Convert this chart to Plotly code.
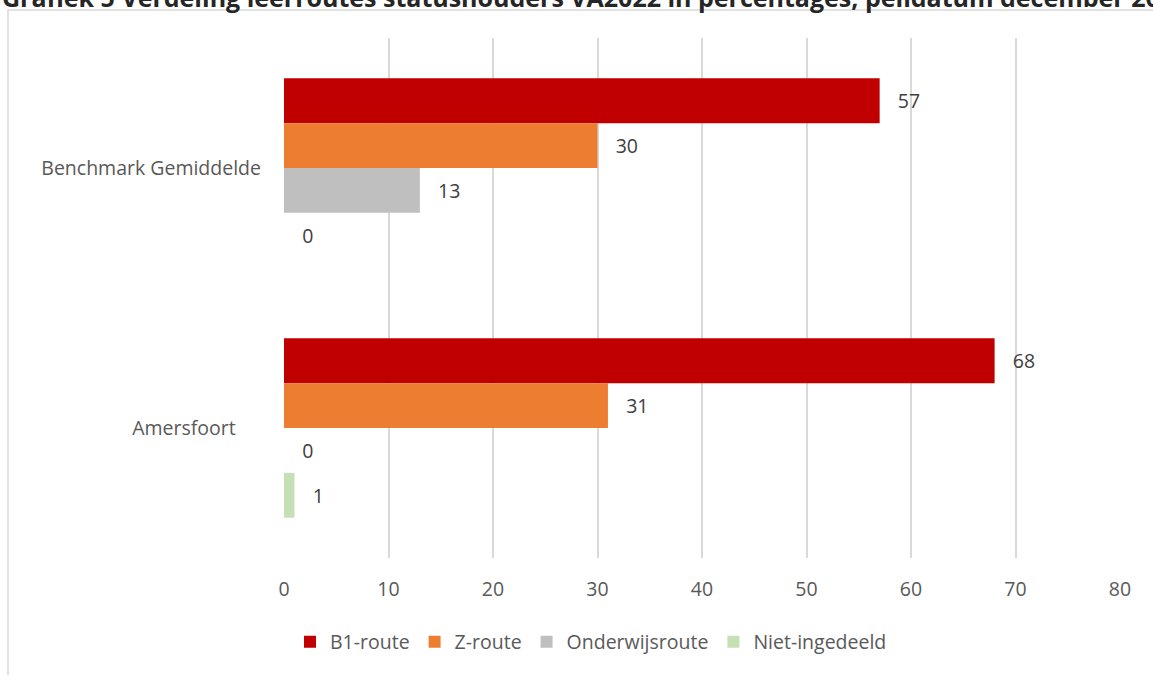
import plotly.graph_objects as go

categories = ["Benchmark Gemiddelde", "Amersfoort"]
series_names = ["B1-route", "Z-route", "Onderwijsroute", "Niet-ingedeeld"]
b1_route = [57, 68]
z_route = [30, 31]
onderwijsroute = [13, 0]
niet_ingedeeld = [0, 1]
x_ticks = [0, 10, 20, 30, 40, 50, 60, 70, 80]
title_text = "Grafiek 5 Verdeling leerroutes statushouders VA2022 in percentages, peildatum december 2022"

colors = ["#c00000", "#ed7d31", "#bfbfbf", "#c5e0b4"]
FONT = "Open Sans"
FS = 19.5

# pixel geometry of the plot area in the reference
W, H = 1153, 675
L, R, T, B = 284, 1120, 38, 558


def px_x(p):
    return (p - L) / (R - L)


def px_y(p):
    return (B - p) / (B - T)


fig = go.Figure()
for name, vals, col in zip(series_names, [b1_route, z_route, onderwijsroute, niet_ingedeeld], colors):
    fig.add_trace(
        go.Bar(
            y=categories,
            x=vals,
            name=name,
            orientation="h",
            marker=dict(color=col, line=dict(width=0)),
            text=[f"   {v}" for v in vals],
            textposition="outside",
            textfont=dict(family=FONT, size=FS, color="#404040"),
            cliponaxis=False,
        )
    )

# excel places the shorter label a bit further left
tick_text = [categories[0], categories[1] + "&nbsp;" * 5]

fig.update_layout(
    width=W,
    height=H,
    barmode="group",
    bargap=0.31,
    bargroupgap=0,
    plot_bgcolor="white",
    paper_bgcolor="white",
    font=dict(family=FONT, size=FS, color="#595959"),
    margin=dict(l=L, r=W - R, t=T, b=H - B, pad=0),
    showlegend=True,
    legend=dict(
        orientation="h",
        x=px_x(591),
        xanchor="center",
        y=px_y(642),
        yanchor="middle",
        font=dict(family=FONT, size=FS, color="#595959"),
        itemwidth=30,
        traceorder="normal",
    ),
    shapes=[
        dict(
            type="rect", xref="paper", yref="paper",
            x0=px_x(8), x1=px_x(W + 20), y0=px_y(H + 20), y1=px_y(10),
            line=dict(color="#d9d9d9", width=1.5), fillcolor="rgba(0,0,0,0)", layer="below",
        )
    ],
    annotations=[
        dict(
            text=f"<b>{title_text}</b>", xref="paper", yref="paper",
            x=px_x(0), y=px_y(16), xanchor="left", yanchor="bottom",
            showarrow=False, font=dict(family=FONT, size=25, color="#262626"),
        )
    ],
)
fig.update_xaxes(
    range=[0, 80],
    tickvals=x_ticks,
    showgrid=True,
    gridcolor="#d9d9d9",
    gridwidth=1.5,
    zeroline=False,
    showline=False,
    ticks="",
    ticklabelstandoff=17,
    tickfont=dict(family=FONT, size=FS, color="#595959"),
)
fig.update_yaxes(
    autorange="reversed",
    tickvals=categories,
    ticktext=tick_text,
    showgrid=False,
    zeroline=False,
    showline=False,
    ticks="",
    ticklabelstandoff=22,
    tickfont=dict(family=FONT, size=FS, color="#595959"),
)

fig.write_html(
    "out.html",
    config={"displayModeBar": False},
    post_script="document.body.style.margin='0';",
)
